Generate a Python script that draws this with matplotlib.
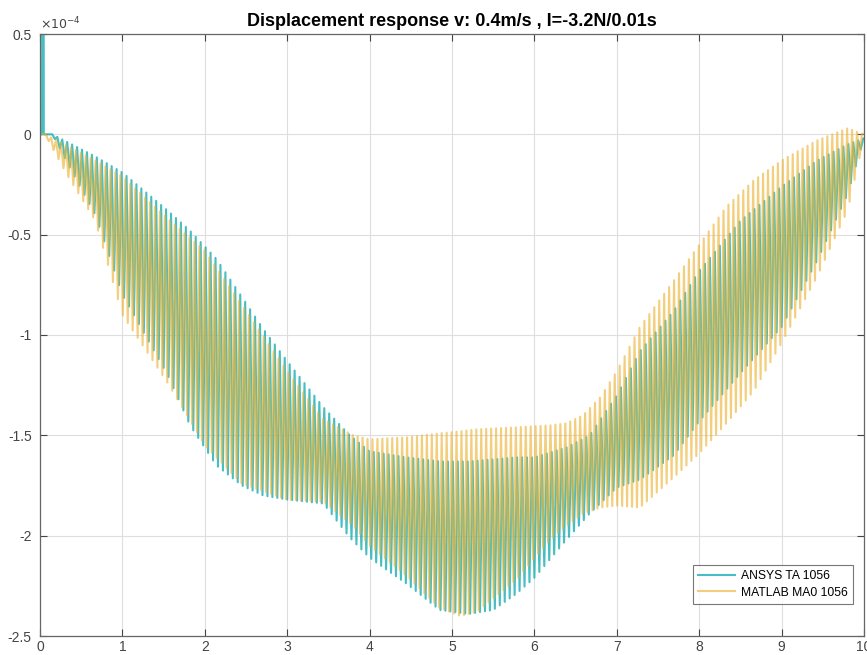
import numpy as np
import matplotlib
matplotlib.use("Agg")
import matplotlib.pyplot as plt

plt.rcParams['font.family'] = ['Liberation Sans', 'DejaVu Sans']
plt.rcParams['axes.unicode_minus'] = False

# ---- data (y in units of 1e-4 m) ----
title = "Displacement response v: 0.4m/s , I=-3.2N/0.01s"
series_names = ["ANSYS TA 1056", "MATLAB MA0 1056"]
x_ticks = [0, 1, 2, 3, 4, 5, 6, 7, 8, 9, 10]
y_ticks = [-2.5, -2, -1.5, -1, -0.5, 0, 0.5]

osc_period = 0.06  # oscillation period (s)

# ANSYS: initial part (spike at start), then envelope of the oscillation
ansys_start_t = [0.0, 0.025, 0.026, 0.045, 0.046, 0.15]
ansys_start_v = [0.0, 0.0, 0.6, 0.6, 0.0, 0.0]
ansys_x = [0.15, 0.34, 0.67, 1.0, 1.55, 1.82, 2.14, 2.45, 2.71, 3.0, 3.44,
           3.76, 4.0, 4.45, 4.85, 5.2, 5.5, 5.78, 6.0, 6.39, 6.67, 7.0,
           7.28, 7.69, 8.0, 8.5, 9.0, 9.43, 9.8, 10.0]
ansys_upper = [0, -0.04, -0.11, -0.19, -0.38, -0.48, -0.62, -0.81, -0.97,
               -1.13, -1.36, -1.5, -1.58, -1.61, -1.63, -1.63, -1.62, -1.61,
               -1.61, -1.56, -1.5, -1.3, -1.08, -0.88, -0.68, -0.43, -0.26,
               -0.13, -0.05, -0.02]
ansys_lower = [0, -0.15, -0.4, -0.8, -1.2, -1.45, -1.65, -1.75, -1.8, -1.82,
               -1.84, -2.01, -2.11, -2.24, -2.37, -2.39, -2.37, -2.29, -2.21,
               -2.02, -1.89, -1.76, -1.72, -1.6, -1.43, -1.19, -0.96, -0.63,
               -0.30, -0.02]

# MATLAB: envelope of the oscillation
matlab_start_t = [0.0, 0.06]
matlab_start_v = [0.0, 0.0]
matlab_x = [0.06, 0.34, 0.67, 1.0, 1.55, 2.0, 2.45, 3.0, 3.44, 3.8, 4.0,
            4.45, 4.85, 5.1, 5.3, 5.78, 6.19, 6.39, 6.59, 6.8, 7.0, 7.28,
            7.69, 8.0, 8.33, 8.66, 9.0, 9.43, 9.8, 10.0]
matlab_upper = [0, -0.06, -0.13, -0.21, -0.42, -0.58, -0.85, -1.18, -1.42,
                -1.5, -1.52, -1.51, -1.49, -1.48, -1.47, -1.46, -1.45, -1.44,
                -1.4, -1.31, -1.18, -0.96, -0.73, -0.55, -0.36, -0.23, -0.13,
                -0.03, 0.03, 0.0]
matlab_lower = [0, -0.21, -0.43, -0.9, -1.24, -1.55, -1.74, -1.82, -1.83,
                -1.95, -2.05, -2.2, -2.36, -2.40, -2.38, -2.22, -2.02, -1.95,
                -1.89, -1.86, -1.85, -1.86, -1.71, -1.59, -1.44, -1.28, -1.04,
                -0.71, -0.38, -0.02]

colors = ["#1aaeb5", "#eeb437"]


def zigzag(start_t, start_v, env_x, env_up, env_lo, phase):
    """Line that swings between the read upper and lower envelopes."""
    half = osc_period / 2.0
    t = np.arange(env_x[0] + phase, env_x[-1], half)
    up = np.interp(t, env_x, env_up)
    lo = np.interp(t, env_x, env_lo)
    v = np.where(np.arange(t.size) % 2 == 0, up, lo)
    tt = np.concatenate([start_t, t, [env_x[-1]]])
    vv = np.concatenate([start_v, v, [env_up[-1]]])
    return tt, vv


fig = plt.figure(figsize=(8.67, 6.55), dpi=100)
ax = fig.add_axes([40 / 867, 19 / 655, 824 / 867, 602 / 655])

t1, v1 = zigzag(ansys_start_t, ansys_start_v, ansys_x, ansys_upper, ansys_lower, 0.0)
t2, v2 = zigzag(matlab_start_t, matlab_start_v, matlab_x, matlab_upper, matlab_lower, 0.015)

ax.plot(t1, v1, color=colors[0], lw=1.5, alpha=0.8, label=series_names[0])
ax.plot(t2, v2, color=colors[1], lw=1.5, alpha=0.65, label=series_names[1])

ax.set_xlim(0, 10)
ax.set_ylim(-2.5, 0.5)
ax.set_xticks(x_ticks)
ax.set_yticks(y_ticks)
ax.set_xticklabels([f"{v:g}" for v in x_ticks])
ax.set_yticklabels([f"{v:g}" for v in y_ticks])
ax.grid(True, color="#dedede", lw=0.8)
ax.set_axisbelow(True)
ax.tick_params(direction="in", length=5, width=0.8, colors="#444444",
               labelsize=10, top=True, right=True)
ax.tick_params(axis="y", pad=6)
ax.tick_params(axis="x", pad=3)
for s in ax.spines.values():
    s.set_color("#666666")
    s.set_linewidth(0.9)

ax.text(0.0, 1.002, r"$\times10^{-4}$", transform=ax.transAxes,
        fontsize=9, color="#444444", ha="left", va="bottom")
ax.set_title(title, fontsize=13, fontweight="bold", pad=6)

leg = ax.legend(loc="lower right", bbox_to_anchor=(0.9866, 0.053), fontsize=8.7,
                frameon=True, fancybox=False, edgecolor="#555555",
                handlelength=3.0, borderpad=0.45, labelspacing=0.35,
                handletextpad=0.5, borderaxespad=0.0)
leg.get_frame().set_linewidth(0.8)

fig.savefig("out.png", dpi=100)
